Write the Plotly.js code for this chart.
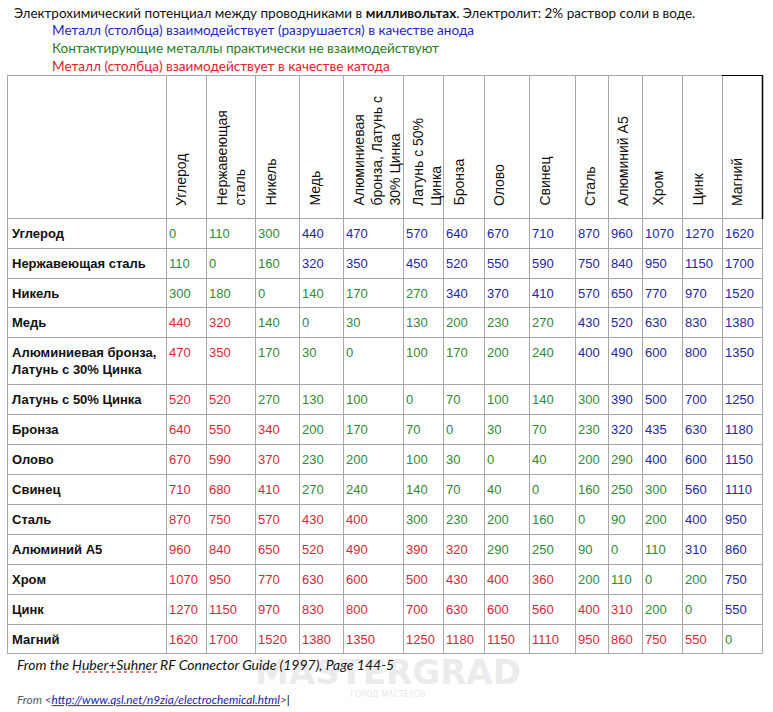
<!DOCTYPE html>
<html>
<head>
<meta charset="utf-8">
<script src="https://cdn.plot.ly/plotly-3.0.1.min.js"></script>
<style>
  body { margin: 0; background: #fff; }
  #plot { width: 773px; height: 712px; }
</style>
</head>
<body>
<div id="plot"></div>
<script>
// metals, as column headers (with line breaks) and row labels
var colLabels = ["Углерод", "Нержавеющая<br>сталь", "Никель", "Медь",
  "Алюминиевая<br>бронза, Латунь с<br>30% Цинка", "Латунь с 50%<br>Цинка", "Бронза",
  "Олово", "Свинец", "Сталь", "Алюминий А5", "Хром", "Цинк", "Магний"];
var rowLabels = ["Углерод", "Нержавеющая сталь", "Никель", "Медь",
  "Алюминиевая бронза,<br>Латунь с 30% Цинка", "Латунь с 50% Цинка", "Бронза",
  "Олово", "Свинец", "Сталь", "Алюминий А5", "Хром", "Цинк", "Магний"];

// potential difference, mV (row metal vs column metal)
var carbon    = [0, 110, 300, 440, 470, 570, 640, 670, 710, 870, 960, 1070, 1270, 1620];
var stainless = [110, 0, 160, 320, 350, 450, 520, 550, 590, 750, 840, 950, 1150, 1700];
var nickel    = [300, 180, 0, 140, 170, 270, 340, 370, 410, 570, 650, 770, 970, 1520];
var copper    = [440, 320, 140, 0, 30, 130, 200, 230, 270, 430, 520, 630, 830, 1380];
var alBronze  = [470, 350, 170, 30, 0, 100, 170, 200, 240, 400, 490, 600, 800, 1350];
var brass50   = [520, 520, 270, 130, 100, 0, 70, 100, 140, 300, 390, 500, 700, 1250];
var bronze    = [640, 550, 340, 200, 170, 70, 0, 30, 70, 230, 320, 435, 630, 1180];
var tin       = [670, 590, 370, 230, 200, 100, 30, 0, 40, 200, 290, 400, 600, 1150];
var lead      = [710, 680, 410, 270, 240, 140, 70, 40, 0, 160, 250, 300, 560, 1110];
var steel     = [870, 750, 570, 430, 400, 300, 230, 200, 160, 0, 90, 200, 400, 950];
var aluminium = [960, 840, 650, 520, 490, 390, 320, 290, 250, 90, 0, 110, 310, 860];
var chrome    = [1070, 950, 770, 630, 600, 500, 430, 400, 360, 200, 110, 0, 200, 750];
var zinc      = [1270, 1150, 970, 830, 800, 700, 630, 600, 560, 400, 310, 200, 0, 550];
var magnesium = [1620, 1700, 1520, 1380, 1350, 1250, 1180, 1150, 1110, 950, 860, 750, 550, 0];
var rows = [carbon, stainless, nickel, copper, alBronze, brass50, bronze, tin,
  lead, steel, aluminium, chrome, zinc, magnesium];

// table geometry (page pixels); colEdges[0] is the label column's left edge
var colEdges = [7, 166, 206, 255, 299, 343, 403, 443, 484, 529, 575, 608, 642, 682, 722, 762];
var rowEdges = [218, 248, 278, 307, 337, 384, 414, 444, 474, 504, 534, 564, 594, 624, 653];
var headTop = 75;

var BLUE = "#25259f", GREEN = "#2f8a3a", RED = "#d3283a";
var GRID = "#a8a8a8";
var tableFont = "Liberation Sans, Arial, sans-serif";
var noteFont = "Lato, Open Sans, sans-serif";

// split cells into three colour groups
var groups = {
  anode: {x: [], y: [], t: [], c: BLUE},
  none: {x: [], y: [], t: [], c: GREEN},
  cathode: {x: [], y: [], t: [], c: RED}
};
rows.forEach(function(r, i) {
  r.forEach(function(v, j) {
    var g = v <= 300 ? groups.none : (j > i ? groups.anode : groups.cathode);
    g.x.push(colEdges[j + 1] + 3);
    g.y.push(rowEdges[i] + 10);
    g.t.push(String(v));
  });
});

var data = [];
Object.keys(groups).forEach(function(k) {
  var g = groups[k];
  data.push({
    x: g.x, y: g.y, text: g.t, type: "scatter", mode: "text",
    textposition: "bottom right", hoverinfo: "skip",
    textfont: {family: tableFont, size: 13, color: g.c}
  });
});

// row labels
data.push({
  x: rowLabels.map(function() { return colEdges[0] + 5; }),
  y: rowLabels.map(function(l, i) { return rowEdges[i] + 10; }),
  text: rowLabels.map(function(l) { return "<b>" + l + "</b>"; }),
  type: "scatter", mode: "text", textposition: "bottom right", hoverinfo: "skip",
  textfont: {family: tableFont, size: 13, color: "#111"}
});

var shapes = [];
function line(x0, y0, x1, y1, color, w) {
  shapes.push({type: "line", xref: "x", yref: "y", x0: x0, y0: y0, x1: x1, y1: y1,
    line: {color: color || GRID, width: w || 1}});
}
var L = colEdges[0], R = colEdges[colEdges.length - 1], B = rowEdges[rowEdges.length - 1];
line(L, headTop + 0.5, R, headTop + 0.5);
rowEdges.forEach(function(y) { line(L, y + 0.5, R, y + 0.5); });
colEdges.forEach(function(x) { line(x + 0.5, headTop, x + 0.5, B + 0.5); });
// selected header cell outline
line(colEdges[14], headTop + 0.5, R + 0.5, headTop + 0.5, "#000", 1);
line(R + 0.5, headTop, R + 0.5, rowEdges[0] + 1, "#000", 1.5);
// spell-check squiggle under Huber+Suhner
shapes.push({type: "line", xref: "x", yref: "y", x0: 76, y0: 672, x1: 158, y1: 672,
  line: {color: "#e05050", width: 1.5, dash: "dot"}});

var annotations = [];
colLabels.forEach(function(l, j) {
  annotations.push({
    x: colEdges[j + 1] + 5, y: rowEdges[0] - 10, xref: "x", yref: "y",
    text: l, showarrow: false, textangle: -90, align: "left",
    xanchor: "left", yanchor: "bottom",
    font: {family: tableFont, size: 14, color: "#111"}
  });
});

function note(x, y, text, size, color) {
  annotations.push({x: x, y: y, xref: "x", yref: "y", text: text, showarrow: false,
    xanchor: "left", yanchor: "middle", align: "left",
    font: {family: noteFont, size: size, color: color}});
}
note(12, 13, "Электрохимический потенциал между проводниками в <b>милливольтах</b>. Электролит: 2% раствор соли в воде.", 13.5, "#111");
note(50, 30, "Металл (столбца) взаимодействует (разрушается) в качестве анода", 13.6, "#1f1fc8");
note(50, 48, "Контактирующие металлы практически не взаимодействуют", 13.6, "#1f7d1f");
note(50, 66, "Металл (столбца) взаимодействует в качестве катода", 13.6, "#e5202a");

// watermark
annotations.push({x: 388, y: 672, xref: "x", yref: "y", text: "<b>MASTERGRAD</b>",
  showarrow: false, font: {family: "DejaVu Sans", size: 34, color: "rgba(215,215,215,0.5)"}});
annotations.push({x: 388, y: 694, xref: "x", yref: "y", text: "ГОРОД МАСТЕРОВ",
  showarrow: false, font: {family: "DejaVu Sans", size: 8, color: "rgba(215,215,215,0.6)"}});

note(15, 664, "<i>From the Huber+Suhner RF Connector Guide (1997), Page 144-5</i>", 14, "#111");
note(15, 699, "<i>From &lt;<u><span style='color:#1a1aa8'>http://www.qsl.net/n9zia/electrochemical.html</span></u>&gt;</i><span style='color:#000'>|</span>", 11.8, "#595959");

var layout = {
  width: 773, height: 712,
  margin: {l: 0, r: 0, t: 0, b: 0},
  paper_bgcolor: "#fff", plot_bgcolor: "#fff",
  showlegend: false,
  xaxis: {range: [0, 773], visible: false, fixedrange: true},
  yaxis: {range: [712, 0], visible: false, fixedrange: true},
  shapes: shapes,
  annotations: annotations
};

Plotly.newPlot("plot", data, layout, {displayModeBar: false, staticPlot: true});
</script>
</body>
</html>
